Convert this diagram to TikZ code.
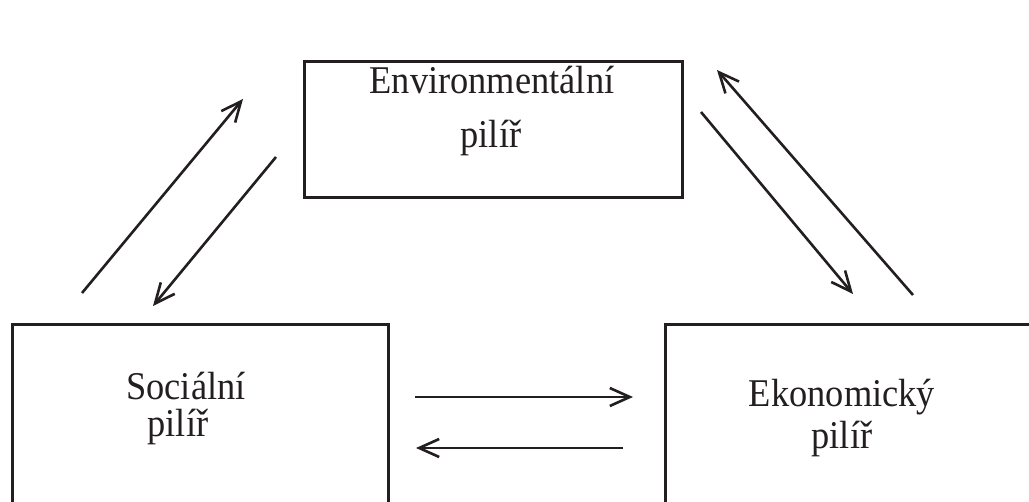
\documentclass[tikz,border=0pt]{standalone}
\usepackage{fontspec}
\setmainfont{Liberation Serif}
\usetikzlibrary{arrows.meta}
\definecolor{ink}{HTML}{231F20}
\newcommand{\tallt}[1]{\scalebox{1}[1.08]{#1}}
\begin{document}
\begin{tikzpicture}[x=1pt,y=-1pt,
  pillar/.style={draw=ink,line width=3pt},
  lbl/.style={anchor=base,inner sep=0pt,font=\fontsize{36.4}{44}\selectfont,text=ink},
  flow/.style={draw=ink,line width=2.6pt,-{Straight Barb[length=20pt,width=18pt,line width=2.6pt]}}]
\useasboundingbox (0,0) rectangle (1029,502);
\clip (0,0) rectangle (1029,502);
\fill[white] (0,0) rectangle (1029,502);
% boxes
\draw[pillar] (304,62) rectangle (682,198);
\draw[pillar] (12,325) rectangle (388,520);
\draw[pillar] (665,325) rectangle (1040,520);
% labels
\node[lbl] (env1) at (492,94) {\tallt{Environmentální}};
\node[lbl] (env2) at (491,148) {\tallt{pilíř}};
\node[lbl] (soc1) at (186,400) {\tallt{Sociální}};
\node[lbl] (soc2) at (178,437) {\tallt{pilíř}};
\node[lbl] (eko1) at (842,407) {\tallt{Ekonomický}};
\node[lbl] (eko2) at (842,449) {\tallt{pilíř}};
% arrow end points
\coordinate (a1s) at (82,293);  \coordinate (a1e) at (243,99);
\coordinate (a2s) at (276,157); \coordinate (a2e) at (153,306);
\coordinate (a3s) at (913,295); \coordinate (a3e) at (717,70);
\coordinate (a4s) at (701,112); \coordinate (a4e) at (853,294);
\coordinate (a5s) at (415,397); \coordinate (a5e) at (633,397);
\coordinate (a6s) at (623,448); \coordinate (a6e) at (416,448);
\draw[flow] (a1s) -- (a1e);
\draw[flow] (a2s) -- (a2e);
\draw[flow] (a3s) -- (a3e);
\draw[flow] (a4s) -- (a4e);
\draw[flow] (a5s) -- (a5e);
\draw[flow] (a6s) -- (a6e);
\end{tikzpicture}
\end{document}
